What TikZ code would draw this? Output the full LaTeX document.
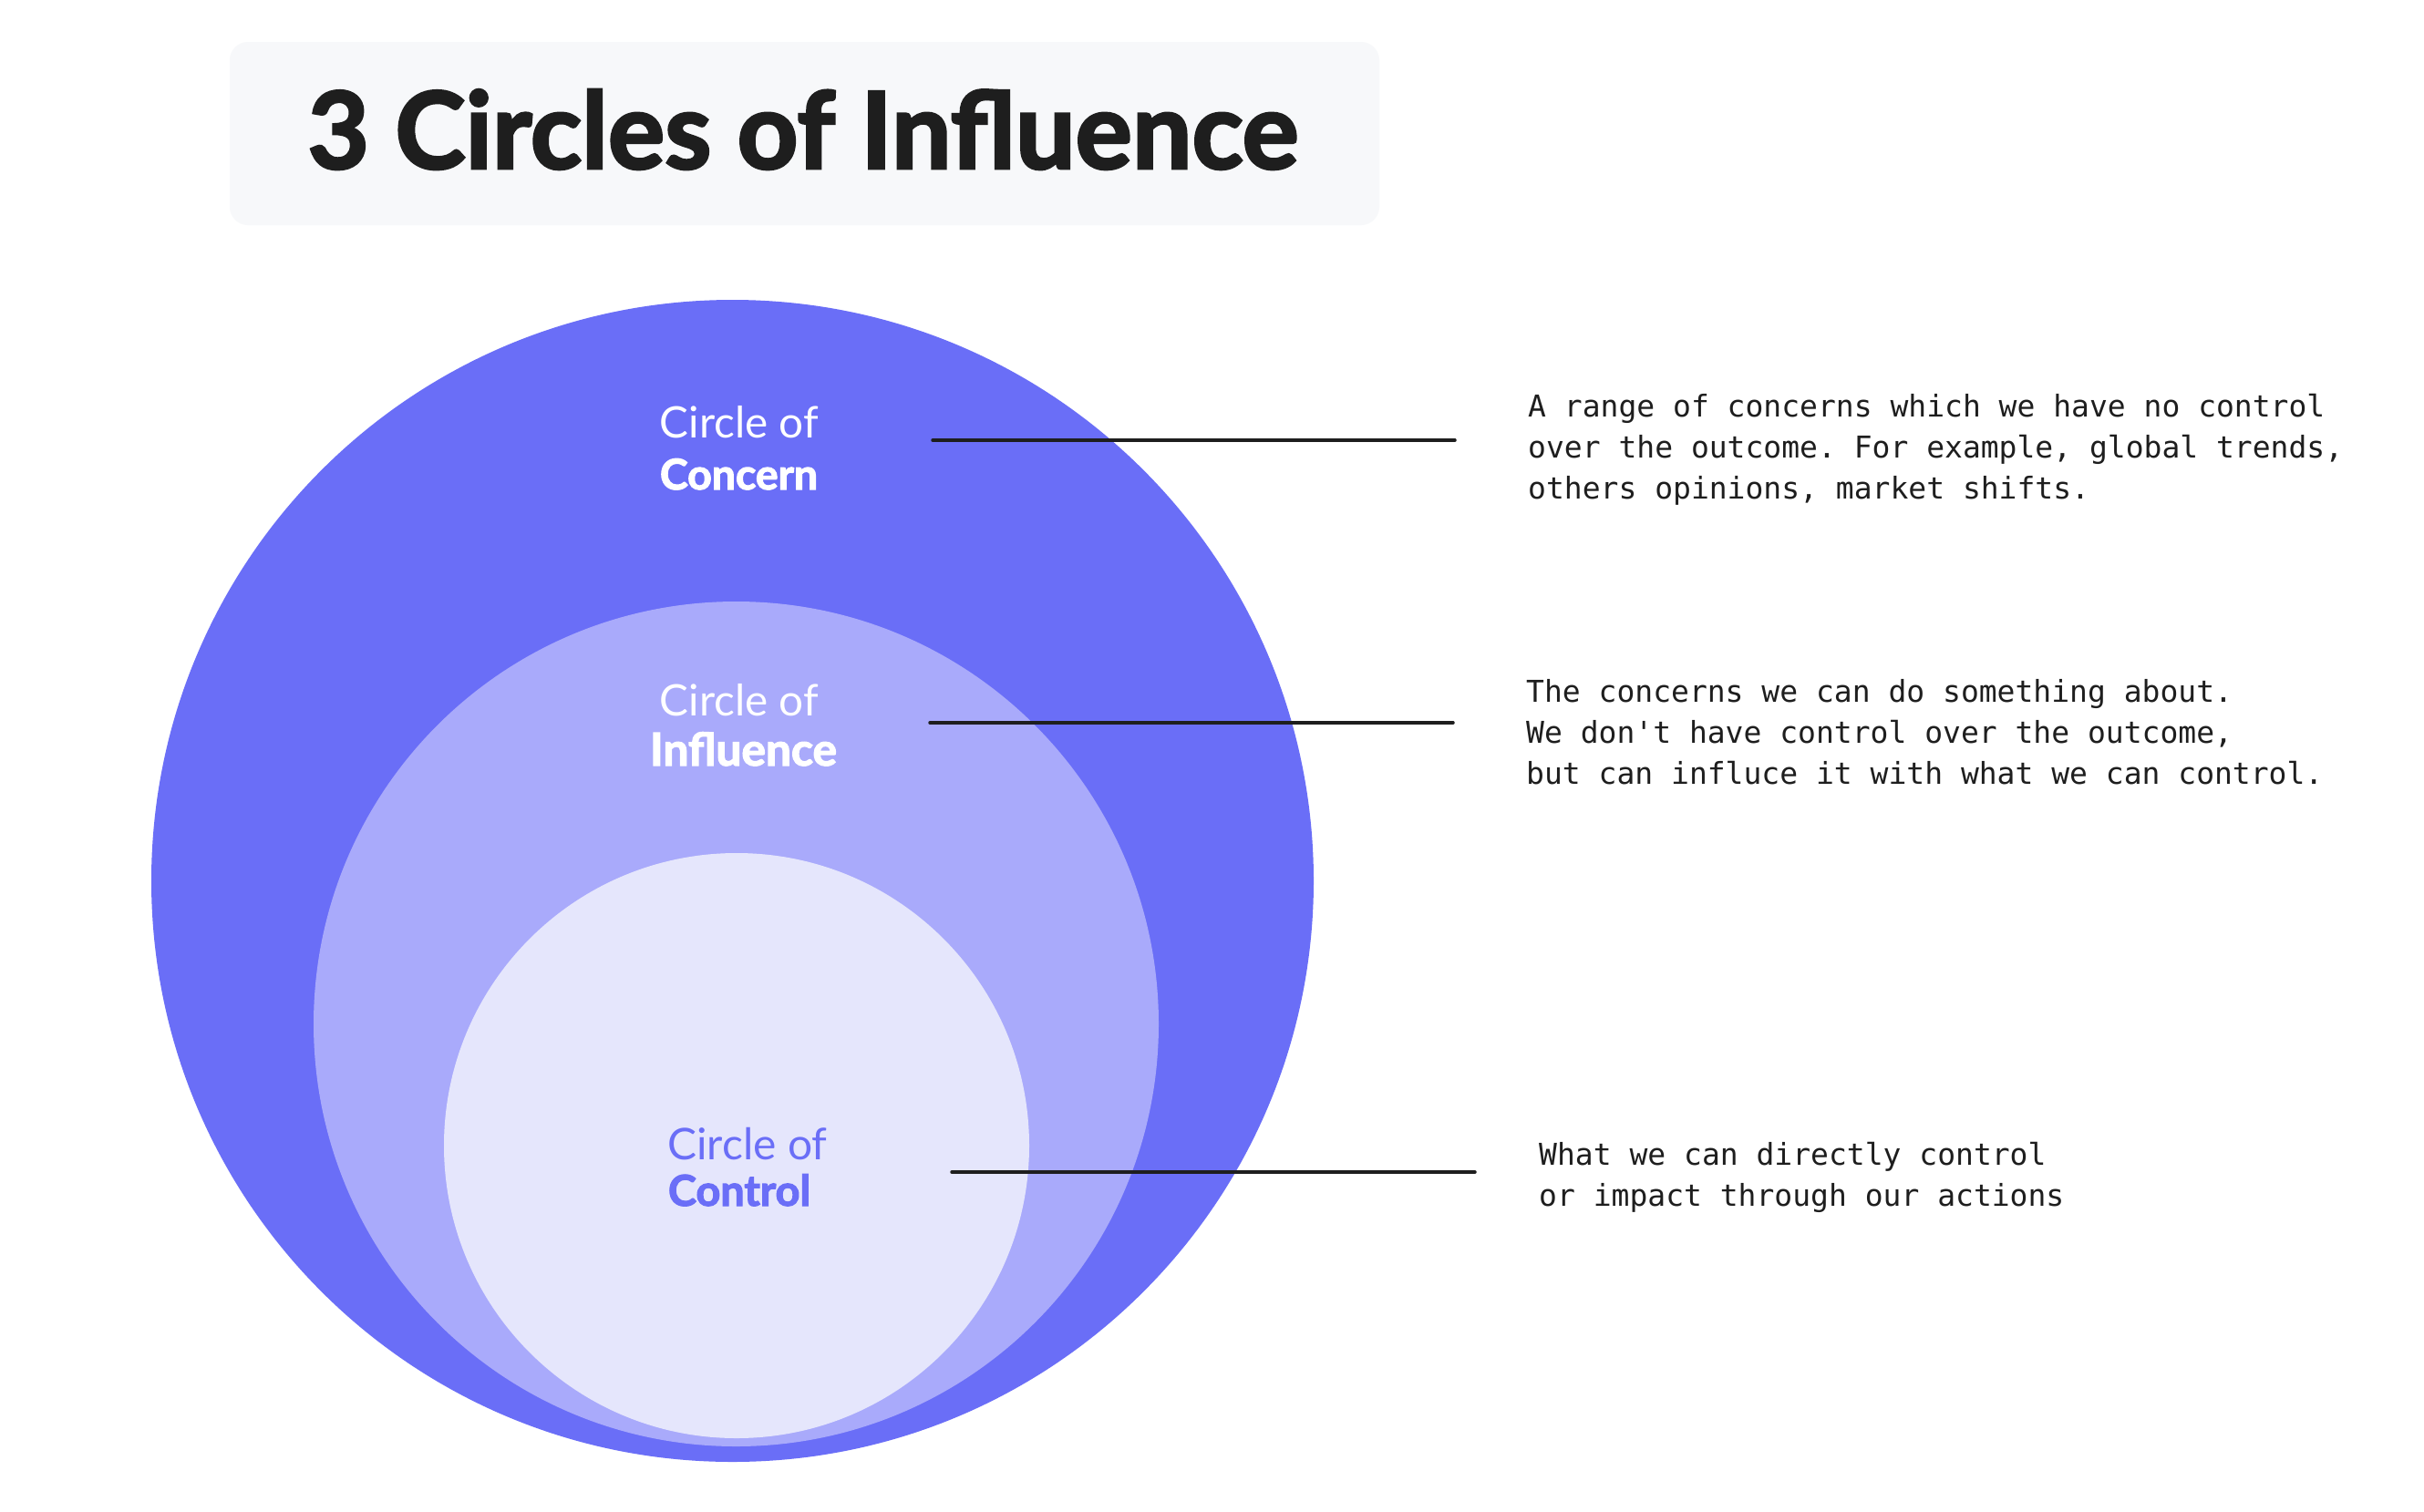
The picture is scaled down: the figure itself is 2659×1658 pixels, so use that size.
\documentclass[tikz,border=0pt]{standalone}
\usepackage{fontspec}
\setmainfont{Lato}
\setmonofont{DejaVu Sans Mono}
\newfontfamily\heavyfont{Lato}[BoldFeatures={FakeBold=2.5}]
\definecolor{concern}{HTML}{6A6EF7}
\definecolor{influence}{HTML}{A9AAFB}
\definecolor{control}{HTML}{E5E6FC}
\definecolor{ink}{HTML}{1E1E1E}
\definecolor{titlebg}{HTML}{F7F8FA}
\begin{document}
\begin{tikzpicture}[x=1pt,y=-1pt,
  ring/.style={circle, inner sep=0pt, draw=none},
  lbl/.style={anchor=base, inner sep=0pt, text=white},
  desc/.style={anchor=north west, inner sep=0pt, align=left, text=ink,
    font=\ttfamily\fontsize{33}{45}\selectfont},
  leader/.style={draw=ink, line width=3.5pt, line cap=round}]
\fill[white] (0,0) rectangle (2659,1658);
\useasboundingbox (0,0) rectangle (2659,1658);
% title
\node[fill=titlebg, rounded corners=20pt, minimum width=1261pt, minimum height=201pt, inner sep=0pt] (titlebox) at (882.5,146.5) {};
\node[anchor=base, inner sep=0pt, text=ink] (title) at (881,185) {\resizebox{1086pt}{87pt}{\heavyfont\bfseries 3 Circles of Influence}};
% circles
\node[ring, fill=concern, minimum size=1275pt] (outer) at (803.5,966.5) {};
\node[ring, fill=influence, minimum size=927pt] (middle) at (807.5,1123.5) {};
\node[ring, fill=control, minimum size=642pt] (inner) at (808,1257) {};
% labels
\node[lbl] (concernA) at (811,480) {\resizebox{174pt}{!}{Circle of}};
\node[lbl] (concernB) at (810.5,537) {\resizebox{173pt}{!}{\heavyfont\bfseries Concern}};
\node[lbl] (influenceA) at (811,785) {\resizebox{174pt}{!}{Circle of}};
\node[lbl] (influenceB) at (815.5,840) {\resizebox{205pt}{!}{\heavyfont\bfseries Influence}};
\node[lbl, text=concern] (controlA) at (820,1272) {\resizebox{175pt}{!}{Circle of}};
\node[lbl, text=concern] (controlB) at (811,1323) {\resizebox{156pt}{!}{\heavyfont\bfseries Control}};
% descriptions
\node[desc] (descConcern) at (1676,425.5) {\strut A range of concerns which we have no control\\\strut over the outcome. For example, global trends,\\\strut others opinions, market shifts.};
\node[desc] (descInfluence) at (1674,738.5) {\strut The concerns we can do something about.\\\strut We don't have control over the outcome,\\\strut but can influce it with what we can control.};
\node[desc] (descControl) at (1688,1246.5) {\strut What we can directly control\\\strut or impact through our actions};
% leaders
\coordinate (c1s) at (1023,483); \coordinate (c1e) at (1596,483);
\coordinate (c2s) at (1020,793); \coordinate (c2e) at (1594,793);
\coordinate (c3s) at (1044,1286); \coordinate (c3e) at (1618,1286);
\draw[leader] (c1s) -- (c1e);
\draw[leader] (c2s) -- (c2e);
\draw[leader] (c3s) -- (c3e);
\end{tikzpicture}
\end{document}
